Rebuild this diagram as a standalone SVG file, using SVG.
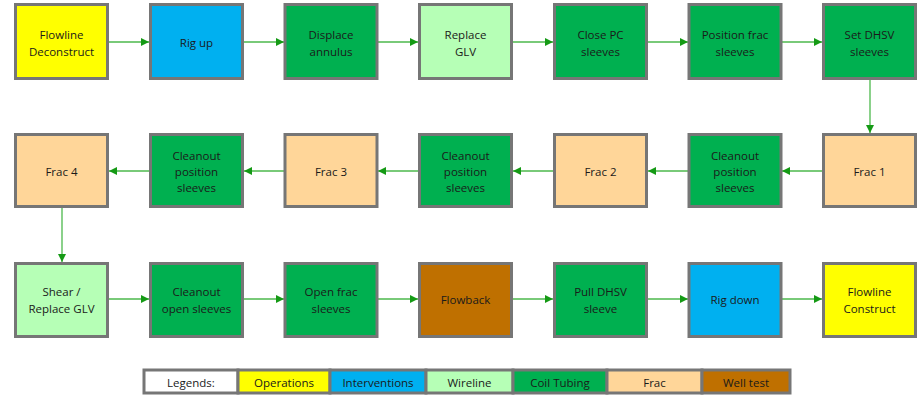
<svg xmlns="http://www.w3.org/2000/svg" width="918" height="396" viewBox="0 0 918 396">
<style>
.b{stroke:#767676;stroke-width:3}
.ops{fill:#FFFF00}.int{fill:#00B0F0}.wl{fill:#B6FFB6}.ct{fill:#00B050}.fr{fill:#FFD699}.wt{fill:#BF7000}.lg{fill:#FFFFFF}
text{font-family:"Open Sans","Liberation Sans",sans-serif;font-size:11.5px;fill:#1a1a1a;text-anchor:middle;dominant-baseline:central}
.c{stroke:#4cb84c;stroke-width:1.3;fill:none;marker-end:url(#ah)}
</style>
<defs>
<marker id="ah" viewBox="0 0 10 10" refX="10" refY="5" markerWidth="8" markerHeight="8" markerUnits="userSpaceOnUse" orient="auto">
<path d="M0,0 L10,5 L0,10 z" fill="#159a15"/>
</marker>
</defs>
<g id="connectors">
<line class="c" x1="109" y1="42" x2="149" y2="42"/>
<line class="c" x1="244" y1="42" x2="284" y2="42"/>
<line class="c" x1="378" y1="42" x2="418" y2="42"/>
<line class="c" x1="513" y1="42" x2="553" y2="42"/>
<line class="c" x1="648" y1="42" x2="688" y2="42"/>
<line class="c" x1="782" y1="42" x2="822" y2="42"/>
<line class="c" x1="870" y1="80" x2="870" y2="133"/>
<line class="c" x1="822" y1="171" x2="782" y2="171"/>
<line class="c" x1="688" y1="171" x2="648" y2="171"/>
<line class="c" x1="553" y1="171" x2="513" y2="171"/>
<line class="c" x1="418" y1="171" x2="378" y2="171"/>
<line class="c" x1="284" y1="171" x2="244" y2="171"/>
<line class="c" x1="149" y1="171" x2="109" y2="171"/>
<line class="c" x1="62" y1="208" x2="62" y2="262"/>
<line class="c" x1="109" y1="299" x2="149" y2="299"/>
<line class="c" x1="244" y1="299" x2="284" y2="299"/>
<line class="c" x1="378" y1="299" x2="418" y2="299"/>
<line class="c" x1="513" y1="299" x2="553" y2="299"/>
<line class="c" x1="648" y1="299" x2="688" y2="299"/>
<line class="c" x1="782" y1="299" x2="822" y2="299"/>
</g>
<g id="n1"><rect class="b ops" x="15.5" y="4.5" width="92" height="74"/><text x="61.5" y="34">Flowline</text><text x="61.5" y="51">Deconstruct</text></g>
<g id="n2"><rect class="b int" x="150.5" y="4.5" width="92" height="74"/><text x="196.5" y="42">Rig up</text></g>
<g id="n3"><rect class="b ct" x="285" y="4.5" width="92" height="74"/><text x="331" y="34">Displace</text><text x="331" y="51">annulus</text></g>
<g id="n4"><rect class="b wl" x="419.5" y="4.5" width="92" height="74"/><text x="465.5" y="34">Replace</text><text x="465.5" y="51">GLV</text></g>
<g id="n5"><rect class="b ct" x="554.5" y="4.5" width="92" height="74"/><text x="600.5" y="34">Close PC</text><text x="600.5" y="51">sleeves</text></g>
<g id="n6"><rect class="b ct" x="689" y="4.5" width="92" height="74"/><text x="735" y="34">Position frac</text><text x="735" y="51">sleeves</text></g>
<g id="n7"><rect class="b ct" x="823.5" y="4.5" width="92" height="74"/><text x="869.5" y="34">Set DHSV</text><text x="869.5" y="51">sleeves</text></g>

<g id="n8"><rect class="b fr" x="823.5" y="134.5" width="92" height="72"/><text x="869.5" y="171">Frac 1</text></g>
<g id="n9"><rect class="b ct" x="689" y="134.5" width="92" height="72"/><text x="735" y="155">Cleanout</text><text x="735" y="171">position</text><text x="735" y="187">sleeves</text></g>
<g id="n10"><rect class="b fr" x="554.5" y="134.5" width="92" height="72"/><text x="600.5" y="171">Frac 2</text></g>
<g id="n11"><rect class="b ct" x="419.5" y="134.5" width="92" height="72"/><text x="465.5" y="155">Cleanout</text><text x="465.5" y="171">position</text><text x="465.5" y="187">sleeves</text></g>
<g id="n12"><rect class="b fr" x="285" y="134.5" width="92" height="72"/><text x="331" y="171">Frac 3</text></g>
<g id="n13"><rect class="b ct" x="150.5" y="134.5" width="92" height="72"/><text x="196.5" y="155">Cleanout</text><text x="196.5" y="171">position</text><text x="196.5" y="187">sleeves</text></g>
<g id="n14"><rect class="b fr" x="15.5" y="134.5" width="92" height="72"/><text x="61.5" y="171">Frac 4</text></g>

<g id="n15"><rect class="b wl" x="15.5" y="263.5" width="92" height="73"/><text x="61.5" y="291">Shear /</text><text x="61.5" y="308">Replace GLV</text></g>
<g id="n16"><rect class="b ct" x="150.5" y="263.5" width="92" height="73"/><text x="196.5" y="291">Cleanout</text><text x="196.5" y="308">open sleeves</text></g>
<g id="n17"><rect class="b ct" x="285" y="263.5" width="92" height="73"/><text x="331" y="291">Open frac</text><text x="331" y="308">sleeves</text></g>
<g id="n18"><rect class="b wt" x="419.5" y="263.5" width="92" height="73"/><text x="465.5" y="299">Flowback</text></g>
<g id="n19"><rect class="b ct" x="554.5" y="263.5" width="92" height="73"/><text x="600.5" y="291">Pull DHSV</text><text x="600.5" y="308">sleeve</text></g>
<g id="n20"><rect class="b int" x="689" y="263.5" width="92" height="73"/><text x="735" y="299">Rig down</text></g>
<g id="n21"><rect class="b ops" x="823.5" y="263.5" width="92" height="73"/><text x="869.5" y="291">Flowline</text><text x="869.5" y="308">Construct</text></g>

<g id="legend">
<rect class="b lg" x="144" y="370" width="94" height="23"/><text x="191" y="382">Legends:</text>
<rect class="b ops" x="238" y="370" width="92" height="23"/><text x="284" y="382">Operations</text>
<rect class="b int" x="330" y="370" width="96" height="23"/><text x="378" y="382">Interventions</text>
<rect class="b wl" x="426" y="370" width="87" height="23"/><text x="469.5" y="382">Wireline</text>
<rect class="b ct" x="513" y="370" width="94" height="23"/><text x="560" y="382">Coil Tubing</text>
<rect class="b fr" x="607" y="370" width="95" height="23"/><text x="654.5" y="382">Frac</text>
<rect class="b wt" x="702" y="370" width="88" height="23"/><text x="746" y="382">Well test</text>
</g>
</svg>
